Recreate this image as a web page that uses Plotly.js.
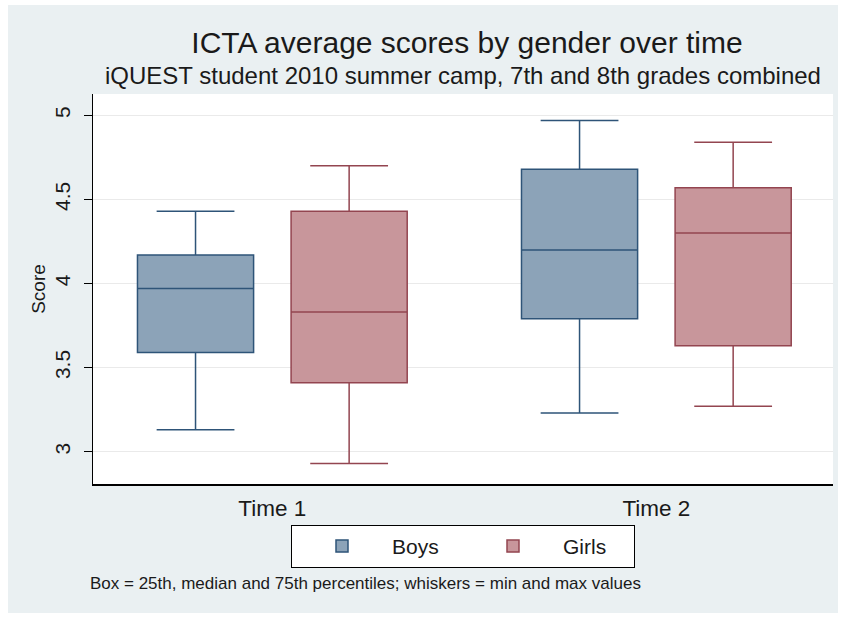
<!DOCTYPE html>
<html>
<head>
<meta charset="utf-8">
<script src="https://cdn.plot.ly/plotly-3.0.1.min.js"></script>
<style>
html,body{margin:0;padding:0;background:#ffffff;}
#chart{position:absolute;left:8px;top:5px;width:830px;height:608px;}
</style>
</head>
<body>
<div id="chart"></div>
<script>
// Data
var timeLabels = ["Time 1", "Time 2"];
var boysMin    = [3.13, 3.23];
var boysQ1     = [3.59, 3.79];
var boysMedian = [3.97, 4.20];
var boysQ3     = [4.17, 4.68];
var boysMax    = [4.43, 4.97];
var girlsMin    = [2.93, 3.27];
var girlsQ1     = [3.41, 3.63];
var girlsMedian = [3.83, 4.30];
var girlsQ3     = [4.43, 4.57];
var girlsMax    = [4.70, 4.84];
var yTicks = [3, 3.5, 4, 4.5, 5];
var yTickText = ["3", "3.5", "4", "4.5", "5"];

var FONT = "'Liberation Sans', Arial, sans-serif";

var boys = {
  type: "box", name: "Boys", x: timeLabels,
  lowerfence: boysMin, q1: boysQ1, median: boysMedian, q3: boysQ3, upperfence: boysMax,
  fillcolor: "#8CA3B8", line: {color: "#2E5478", width: 1.5},
  whiskerwidth: 0.67, boxpoints: false, hoverinfo: "skip"
};
var girls = {
  type: "box", name: "Girls", x: timeLabels,
  lowerfence: girlsMin, q1: girlsQ1, median: girlsMedian, q3: girlsQ3, upperfence: girlsMax,
  fillcolor: "#C8969B", line: {color: "#934550", width: 1.5},
  whiskerwidth: 0.67, boxpoints: false, hoverinfo: "skip"
};

var layout = {
  width: 830, height: 608,
  paper_bgcolor: "#EAF0F2", plot_bgcolor: "#ffffff",
  margin: {l: 85, r: 5, t: 89, b: 129},
  font: {family: FONT, color: "#222222"},
  boxmode: "group", boxgap: 0.2, boxgroupgap: 0.244,
  title: {text: "ICTA average scores by gender over time", font: {family: FONT, size: 30, color: "#1a1a1a"},
          x: 0.553, xanchor: "center", y: 0.939, yanchor: "middle"},
  xaxis: {type: "category", range: [-0.467, 1.46], showgrid: false, zeroline: false,
          showline: true, linecolor: "#000000", linewidth: 1.5, ticks: "", ticklabelstandoff: 3,
          tickfont: {family: FONT, size: 22.5, color: "#1a1a1a"}, fixedrange: true},
  yaxis: {range: [2.808, 5.127], tickvals: yTicks, ticktext: yTickText, tickangle: -90,
          ticks: "outside", ticklen: 8, tickwidth: 1, tickcolor: "#000000", ticklabelstandoff: 5,
          showline: true, linecolor: "#000000", linewidth: 1.5, zeroline: false,
          showgrid: true, gridcolor: "#EAEAEA", gridwidth: 1,
          tickfont: {family: FONT, size: 21, color: "#1a1a1a"},
          title: {text: "Score", font: {family: FONT, size: 19, color: "#1a1a1a"}, standoff: 0}, fixedrange: true},
  showlegend: true,
  legend: {orientation: "h", x: 0.5, xanchor: "center", y: -0.105, yanchor: "top",
           bgcolor: "#ffffff", bordercolor: "#000000", borderwidth: 1,
           font: {family: FONT, size: 21, color: "#1a1a1a"}, itemwidth: 90,
           entrywidth: 66, entrywidthmode: "pixels"},
  annotations: [
    {text: "iQUEST student 2010 summer camp, 7th and 8th grades combined", xref: "paper", yref: "paper",
     x: 0.5, xanchor: "center", y: 1.0487, yanchor: "middle", showarrow: false,
     font: {family: FONT, size: 24, color: "#1a1a1a"}},
    {text: "Box = 25th, median and 75th percentiles; whiskers = min and max values", xref: "paper", yref: "paper",
     x: -0.007, xanchor: "left", y: -0.254, yanchor: "middle", showarrow: false,
     font: {family: FONT, size: 17, color: "#1a1a1a"}}
  ]
};

Plotly.newPlot("chart", [boys, girls], layout, {displayModeBar: false, staticPlot: true});
</script>
</body>
</html>
